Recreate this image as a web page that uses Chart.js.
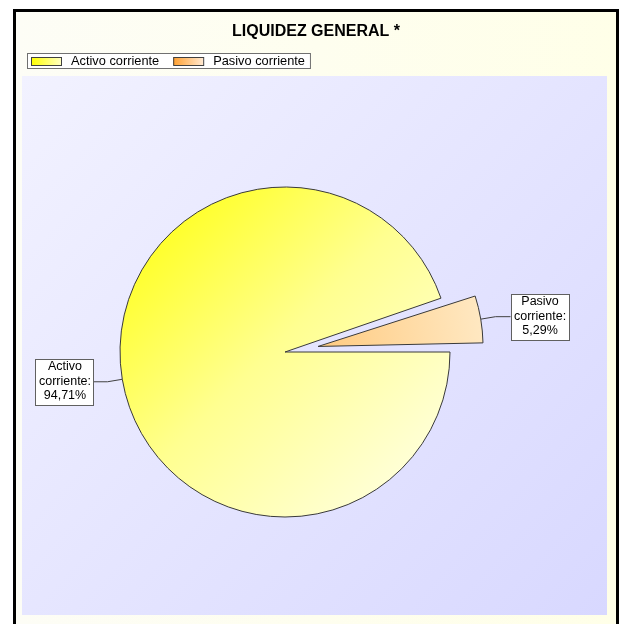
<!DOCTYPE html>
<html>
<head>
<meta charset="utf-8">
<script src="https://cdn.jsdelivr.net/npm/chart.js@4/dist/chart.umd.min.js"></script>
<style>
html,body{margin:0;padding:0;background:#ffffff;}
#wrap{position:relative;width:620px;height:624px;}
</style>
</head>
<body>
<div id="wrap"><canvas id="c" width="620" height="624"></canvas></div>
<script>
const chartTitle = 'LIQUIDEZ GENERAL *';
const categories = ['Activo corriente', 'Pasivo corriente'];
const values = [94.71, 5.29];
const labelLines = [['Activo', 'corriente:'], ['Pasivo', 'corriente:']];

const FONT = '"Liberation Sans", Arial, sans-serif';
const R = 165;

function fmt(v) { return v.toFixed(2).replace('.', ',') + '%'; }

function sliceFill(ctx) {
  const c = ctx.chart, a = c.chartArea;
  if (!a) return ctx.dataIndex === 0 ? '#ffff60' : '#ffdca8';
  const cx = (a.left + a.right) / 2, cy = (a.top + a.bottom) / 2;
  let g;
  if (ctx.dataIndex === 0) {
    g = c.ctx.createLinearGradient(cx - R * 0.85, cy - R * 0.85, cx + R * 0.75, cy + R * 0.75);
    g.addColorStop(0, '#ffff18');
    g.addColorStop(0.5, '#ffff90');
    g.addColorStop(1, '#ffffd8');
  } else {
    g = c.ctx.createLinearGradient(cx + 10, cy, cx + R + 10, cy - 20);
    g.addColorStop(0, '#ffcc84');
    g.addColorStop(1, '#ffeac6');
  }
  return g;
}

function arcGeom(arc) {
  const p = arc.getProps(['x', 'y', 'startAngle', 'endAngle', 'outerRadius', 'circumference']);
  const off = (arc.options.offset || 0) / 4;
  const fix = 1 - Math.sin(Math.min(Math.PI, p.circumference || 0));
  return {p, off, fix};
}

const framePlugin = {
  id: 'framePlugin',
  beforeDraw(chart) {
    const ctx = chart.ctx;
    ctx.save();
    ctx.fillStyle = '#ffffff';
    ctx.fillRect(0, 0, 620, 624);
    const bg = ctx.createLinearGradient(15, 0, 618, 0);
    bg.addColorStop(0, '#fdfdf6');
    bg.addColorStop(1, '#ffffe8');
    ctx.fillStyle = bg;
    ctx.fillRect(15, 11, 603, 620);
    ctx.strokeStyle = '#000000';
    ctx.lineWidth = 3;
    ctx.strokeRect(14.5, 10.5, 603, 700);
    const pg = ctx.createLinearGradient(22, 76, 607, 615);
    pg.addColorStop(0, '#f2f2ff');
    pg.addColorStop(1, '#d8d8ff');
    ctx.fillStyle = pg;
    ctx.fillRect(22, 76, 585, 539);
    ctx.fillStyle = '#000000';
    ctx.font = 'bold 16px ' + FONT;
    ctx.textAlign = 'center';
    ctx.textBaseline = 'middle';
    ctx.fillText(chartTitle, 316, 31.5);
    ctx.font = '12.8px ' + FONT;
    ctx.textAlign = 'left';
    const lx = 27, ly = 53;
    const sw = 30, gapSwText = 10, gapItems = 14;
    let x = lx + 4;
    const items = [];
    categories.forEach((name) => {
      const tw = ctx.measureText(name).width;
      items.push({x, tw});
      x += sw + gapSwText + tw + gapItems;
    });
    const legW = x - gapItems + 5 - lx;
    ctx.fillStyle = '#ffffff';
    ctx.fillRect(lx, ly, legW, 15.5);
    ctx.strokeStyle = '#707070';
    ctx.lineWidth = 1;
    ctx.strokeRect(lx + 0.5, ly + 0.5, legW, 15);
    items.forEach((it, i) => {
      const g = ctx.createLinearGradient(it.x, 0, it.x + sw, 0);
      if (i === 0) { g.addColorStop(0, '#ffff00'); g.addColorStop(1, '#ffffc0'); }
      else { g.addColorStop(0, '#ffa030'); g.addColorStop(1, '#ffe8d0'); }
      ctx.fillStyle = g;
      ctx.fillRect(it.x, ly + 4, sw, 8);
      ctx.strokeStyle = '#404040';
      ctx.strokeRect(it.x + 0.5, ly + 4.5, sw, 8);
      ctx.fillStyle = '#000000';
      ctx.textBaseline = 'middle';
      ctx.fillText(categories[i], it.x + sw + gapSwText, ly + 8.5);
    });
    ctx.restore();
  },
  beforeDatasetsDraw(chart) {
    // keep exploded slices at the same visible radius as the rest
    chart.getDatasetMeta(0).data.forEach((arc) => {
      const {off, fix} = arcGeom(arc);
      arc.outerRadius = R - off * fix;
    });
  },
  afterDatasetsDraw(chart) {
    const ctx = chart.ctx;
    const meta = chart.getDatasetMeta(0);
    ctx.save();
    ctx.font = '12.5px ' + FONT;
    meta.data.forEach((arc, i) => {
      const {p, off, fix} = arcGeom(arc);
      const shift = off;
      const rad = arc.outerRadius + off * fix;
      const mid = (p.startAngle + p.endAngle) / 2;
      const cx = p.x + Math.cos(mid) * shift, cy = p.y + Math.sin(mid) * shift;
      const ex = cx + Math.cos(mid) * rad, ey = cy + Math.sin(mid) * rad;
      const kx = ex + Math.cos(mid) * 15, ky = ey + Math.sin(mid) * 15;
      const right = Math.cos(mid) >= 0;
      const bx = right ? kx + 15 : kx - 14;
      const lines = labelLines[i].concat([fmt(values[i])]);
      const bw = 58, bh = 46;
      const boxX = right ? bx : bx - bw;
      const boxY = ky - bh / 2;
      ctx.strokeStyle = '#404040';
      ctx.lineWidth = 1;
      ctx.beginPath();
      ctx.moveTo(ex, ey);
      ctx.lineTo(kx, ky);
      ctx.lineTo(bx, ky);
      ctx.stroke();
      ctx.fillStyle = '#ffffff';
      ctx.fillRect(Math.round(boxX) + 0.5, Math.round(boxY) + 0.5, bw, bh);
      ctx.strokeStyle = '#606060';
      ctx.strokeRect(Math.round(boxX) + 0.5, Math.round(boxY) + 0.5, bw, bh);
      ctx.fillStyle = '#000000';
      ctx.textAlign = 'center';
      ctx.textBaseline = 'middle';
      lines.forEach((t, j) => {
        ctx.fillText(t, boxX + bw / 2 + 0.5, boxY + 8 + j * 14.5);
      });
    });
    ctx.restore();
  }
};

new Chart(document.getElementById('c'), {
  type: 'pie',
  data: {
    labels: categories,
    datasets: [{
      data: values,
      backgroundColor: sliceFill,
      borderColor: '#3a3a3a',
      borderWidth: 1,
      offset: [0, 134]
    }]
  },
  options: {
    responsive: false,
    devicePixelRatio: 1,
    animation: false,
    events: [],
    rotation: 90,
    radius: R,
    layout: { padding: { left: 0, right: 50, top: 80, bottom: 0 } },
    plugins: {
      legend: { display: false },
      title: { display: false },
      tooltip: { enabled: false }
    }
  },
  plugins: [framePlugin]
});
</script>
</body>
</html>
